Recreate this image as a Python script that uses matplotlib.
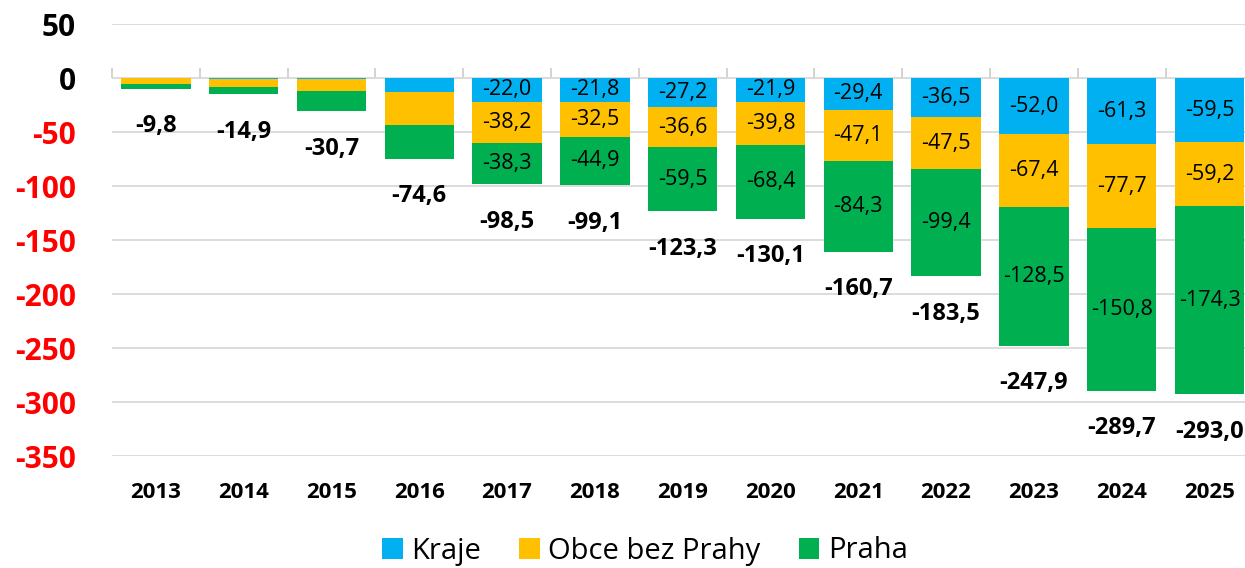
import matplotlib
matplotlib.use("Agg")
import matplotlib.pyplot as plt
import numpy as np
from matplotlib.patches import Patch

plt.rcParams['font.family'] = ['Open Sans', 'DejaVu Sans']

years = ['2013', '2014', '2015', '2016', '2017', '2018', '2019', '2020',
         '2021', '2022', '2023', '2024', '2025']
kraje = [-0.3, -0.5, -0.7, -12.5, -22.0, -21.8, -27.2, -21.9, -29.4, -36.5, -52.0, -61.3, -59.5]
obce = [-5.0, -8.0, -11.5, -31.0, -38.2, -32.5, -36.6, -39.8, -47.1, -47.5, -67.4, -77.7, -59.2]
praha = [-4.5, -6.4, -18.5, -31.1, -38.3, -44.9, -59.5, -68.4, -84.3, -99.4, -128.5, -150.8, -174.3]
totals = [-9.8, -14.9, -30.7, -74.6, -98.5, -99.1, -123.3, -130.1, -160.7, -183.5, -247.9, -289.7, -293.0]
show_segment_labels = [False, False, False, False, True, True, True, True, True, True, True, True, True]

series_names = ['Kraje', 'Obce bez Prahy', 'Praha']
colors = ['#00B0F0', '#FFC000', '#00B050']
yticks = [50, 0, -50, -100, -150, -200, -250, -300, -350]

W, H = 1245, 568
fig = plt.figure(figsize=(W / 100, H / 100), dpi=100)
left = 112 / W
width = 87.8 * 13 / W
bottom = (H - 456) / H
top = (H - 24) / H
ax = fig.add_axes([left, bottom, width, top - bottom])

x = np.arange(len(years))
bw = 0.79
series = [kraje, obce, praha]
base = np.zeros(len(years))
for vals, col, name in zip(series, colors, series_names):
    v = np.array(vals)
    bars = ax.bar(x, v, bw, bottom=base, color=col, label=name, zorder=2)
    for i, b in enumerate(bars):
        if show_segment_labels[i]:
            ax.text(x[i], base[i] + v[i] / 2, f"{v[i]:.1f}".replace('.', ','),
                    ha='center', va='center', fontsize=15.5, color='black', zorder=3)
    base = base + v

for i, t in enumerate(totals):
    ax.annotate(f"{t:.1f}".replace('.', ','), xy=(x[i], t), xytext=(0, -27),
                textcoords='offset points', ha='center', va='center',
                fontsize=17, fontweight='bold', color='black', zorder=3,
                annotation_clip=False)

ax.set_ylim(-350, 50)
ax.set_xlim(-0.5, len(years) - 0.5)
ax.set_yticks(yticks)
ax.set_yticklabels([str(v) for v in yticks])
for lbl, v in zip(ax.get_yticklabels(), yticks):
    lbl.set_color('black' if v >= 0 else '#FF0000')
    lbl.set_fontweight('bold')
    lbl.set_fontsize(21.5)
ax.tick_params(axis='y', length=0, pad=26)
ax.set_xticks(x)
ax.set_xticklabels(years, fontsize=16, fontweight='bold')
ax.tick_params(axis='x', length=0, pad=19)
ax.grid(axis='y', color='#d9d9d9', linewidth=1.3, zorder=0)
ax.set_axisbelow(True)
for s in ax.spines.values():
    s.set_visible(False)

# category axis at zero with boundary ticks
sec = ax.secondary_xaxis(350 / 400)
sec.set_xticks(np.arange(len(years) + 1) - 0.5)
sec.set_xticklabels([])
sec.tick_params(axis='x', direction='out', length=7, color='#d0d0d0', width=1.3)
sec.spines['bottom'].set_color('#d0d0d0')
sec.spines['bottom'].set_linewidth(1.3)
sec.spines['top'].set_visible(False)

handles = [Patch(facecolor=c, label=n) for c, n in zip(colors, series_names)]
fig.legend(handles=handles, loc='center', bbox_to_anchor=(645 / W, (H - 551) / H),
           ncol=3, frameon=False, fontsize=21, handlelength=0.7, handleheight=0.7,
           handletextpad=0.3, columnspacing=1.3)

fig.savefig('out.png', dpi=100)
